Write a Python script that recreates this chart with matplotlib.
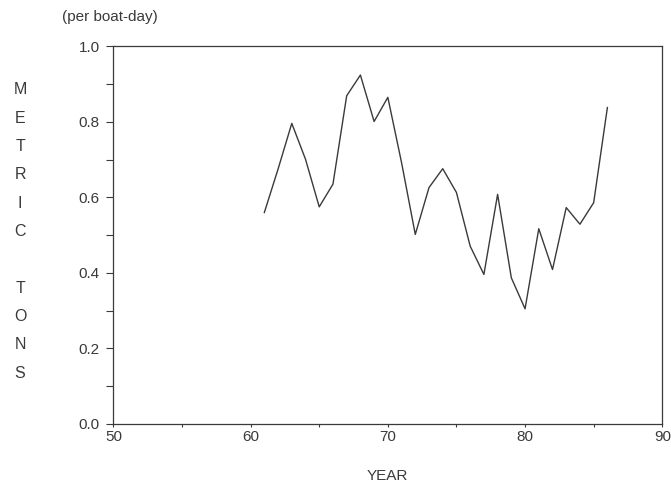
import matplotlib
matplotlib.use("Agg")
import matplotlib.pyplot as plt
from matplotlib.ticker import MultipleLocator

# ============== DATA ==============
years = [61, 62, 63, 64, 65, 66, 67, 68, 69, 70, 71, 72, 73,
         74, 75, 76, 77, 78, 79, 80, 81, 82, 83, 84, 85, 86]
tons_per_boat_day = [0.560, 0.675, 0.796, 0.701, 0.575, 0.635, 0.869, 0.924,
                     0.801, 0.865, 0.692, 0.502, 0.626, 0.676, 0.613, 0.471,
                     0.396, 0.608, 0.387, 0.305, 0.517, 0.409, 0.573, 0.529,
                     0.586, 0.838]
ylabel_letters = "METRIC TONS"

# ============== STYLE ==============
plt.rcParams['font.family'] = ['Liberation Sans', 'DejaVu Sans']
ink = '#3a3a3a'

fig = plt.figure(figsize=(6.71, 4.93), dpi=100)
ax = fig.add_axes([0.169, 0.140, 0.818, 0.766])

ax.plot(years, tons_per_boat_day, color=ink, linewidth=1.0)

ax.set_xlim(50, 90)
ax.set_ylim(0.0, 1.0)
ax.xaxis.set_major_locator(MultipleLocator(10))
ax.xaxis.set_minor_locator(MultipleLocator(5))
ax.yaxis.set_major_locator(MultipleLocator(0.2))
ax.yaxis.set_minor_locator(MultipleLocator(0.1))
ax.yaxis.set_major_formatter(matplotlib.ticker.FormatStrFormatter('%.1f'))

for side in ax.spines.values():
    side.set_color(ink)
    side.set_linewidth(0.9)

ax.tick_params(axis='y', which='both', direction='out', length=5, width=0.8,
               color=ink, labelcolor=ink, labelsize=11, pad=5)
ax.tick_params(axis='x', which='both', direction='out', length=2.5, width=0.8,
               color=ink, labelcolor=ink, labelsize=11, pad=2)

# x axis title
ax.set_xlabel("YEAR", color=ink, fontsize=11, labelpad=18)

# units note above the plot
fig.text(110 / 671, 1 - 17 / 493, "(per boat-day)", color=ink, fontsize=11,
         ha='center', va='center')

# vertical stacked y label, one letter per line
top_px, step_px = 90, 28.3
for i, ch in enumerate(ylabel_letters):
    if ch == ' ':
        continue
    ypx = top_px + i * step_px
    fig.text(20 / 671, 1 - ypx / 493, ch, color=ink, fontsize=11.5,
             ha='center', va='center')

fig.savefig("out.png", dpi=100)
